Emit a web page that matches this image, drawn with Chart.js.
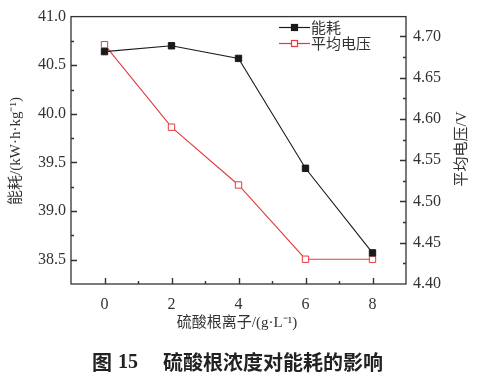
<!DOCTYPE html>
<html>
<head>
<meta charset="utf-8">
<script src="https://cdn.jsdelivr.net/npm/chart.js@4/dist/chart.umd.min.js"></script>
<style>
html,body{margin:0;padding:0;background:#fff;}
#wrap{width:480px;height:383px;}
</style>
</head>
<body>
<div id="wrap"><canvas id="c" width="480" height="383"></canvas></div>
<script>
const concentrations = [0, 2, 4, 6, 8];
const energy = [40.64, 40.70, 40.57, 39.44, 38.57];
const voltage = [4.69, 4.59, 4.52, 4.43, 4.43];
const xTicks = [0, 2, 4, 6, 8];
const leftTicks = [38.5, 39.0, 39.5, 40.0, 40.5, 41.0];
const rightTicks = [4.40, 4.45, 4.50, 4.55, 4.60, 4.65, 4.70];
const seriesNames = ['能耗', '平均电压'];
const xTitle = '硫酸根离子/(g·L⁻¹)';
const yTitle = '能耗/(kW·h·kg⁻¹)';
const y1Title = '平均电压/V';
const captionNum = '15';
const captionText = '硫酸根浓度对能耗的影响';

const SERIF = '"Liberation Serif", "Noto Sans CJK SC", serif';
const BLACK = '#1a1a1a';
const RED = '#e33b3f';
const AXIS = '#333333';

const decor = {
  id: 'decor',
  afterDraw(chart) {
    const ctx = chart.ctx, a = chart.chartArea;
    const sx = chart.scales.x, sy = chart.scales.y, sy1 = chart.scales.y1;
    ctx.save();
    ctx.strokeStyle = AXIS;
    ctx.lineWidth = 1.3;
    ctx.strokeRect(a.left, a.top, a.right - a.left, a.bottom - a.top);
    ctx.lineWidth = 1.4;
    ctx.beginPath();
    for (let v = -1; v <= 9; v++) {
      const px = Math.round(sx.getPixelForValue(v)) + 0.5;
      if (px <= a.left + 1 || px >= a.right - 1) continue;
      const len = (Math.abs(v) % 2 === 0) ? 6 : 3;
      ctx.moveTo(px, a.bottom); ctx.lineTo(px, a.bottom - len);
    }
    for (let i = 0; i <= 11; i++) {
      const v = 38.25 + i * 0.25;
      const py = Math.round(sy.getPixelForValue(v)) + 0.5;
      if (py <= a.top + 1 || py >= a.bottom - 1) continue;
      const len = (i % 2 === 1) ? 6 : 3;
      ctx.moveTo(a.left, py); ctx.lineTo(a.left + len, py);
    }
    for (let i = 0; i <= 13; i++) {
      const v = 4.40 + i * 0.025;
      const py = Math.round(sy1.getPixelForValue(v)) + 0.5;
      if (py <= a.top + 1 || py >= a.bottom - 1) continue;
      const len = (i % 2 === 0) ? 6 : 3;
      ctx.moveTo(a.right, py); ctx.lineTo(a.right - len, py);
    }
    ctx.stroke();

    ctx.fillStyle = '#333';
    ctx.textBaseline = 'middle';
    ctx.font = '15px ' + SERIF;
    ctx.textAlign = 'center';
    ctx.fillText(xTitle, 237, 323);
    ctx.save();
    ctx.translate(16, 151);
    ctx.rotate(-Math.PI / 2);
    ctx.fillText(yTitle, 0, 0);
    ctx.restore();
    ctx.save();
    ctx.translate(462, 149);
    ctx.rotate(-Math.PI / 2);
    ctx.fillText(y1Title, 0, 0);
    ctx.restore();

    const items = [
      {name: seriesNames[0], color: BLACK, fill: BLACK, y: 27},
      {name: seriesNames[1], color: RED, fill: '#fff', y: 43}
    ];
    items.forEach(it => {
      ctx.strokeStyle = it.color;
      ctx.lineWidth = 1.2;
      ctx.beginPath();
      ctx.moveTo(279, it.y + 0.5); ctx.lineTo(310, it.y + 0.5);
      ctx.stroke();
      ctx.fillStyle = it.fill;
      ctx.fillRect(291.5, it.y - 2.5, 6, 6);
      ctx.strokeRect(291.5, it.y - 2.5, 6, 6);
      ctx.fillStyle = '#333';
      ctx.textAlign = 'left';
      ctx.font = '15px "Noto Sans CJK SC", sans-serif';
      ctx.fillText(it.name, 311, it.y);
    });

    ctx.fillStyle = '#222';
    ctx.textAlign = 'left';
    ctx.font = 'bold 20px "Noto Sans CJK SC", sans-serif';
    ctx.fillText('图', 92, 362);
    ctx.font = 'bold 20px "Liberation Serif", serif';
    ctx.fillText(captionNum, 118, 363);
    ctx.font = 'bold 20px "Noto Sans CJK SC", sans-serif';
    ctx.fillText(captionText, 163, 362);
    ctx.restore();
  }
};

new Chart(document.getElementById('c'), {
  type: 'line',
  data: {
    datasets: [
      {
        label: seriesNames[0],
        data: concentrations.map((x, i) => ({x, y: energy[i]})),
        yAxisID: 'y',
        borderColor: BLACK,
        backgroundColor: BLACK,
        borderWidth: 1.1,
        pointStyle: 'rect',
        pointRadius: 4.5,
        pointBorderWidth: 1,
        pointBackgroundColor: BLACK,
        pointBorderColor: BLACK,
        tension: 0
      },
      {
        label: seriesNames[1],
        data: concentrations.map((x, i) => ({x, y: voltage[i]})),
        yAxisID: 'y1',
        borderColor: RED,
        backgroundColor: '#fff',
        borderWidth: 1.1,
        pointStyle: 'rect',
        pointRadius: 4.5,
        pointBorderWidth: 1,
        pointBackgroundColor: '#fff',
        pointBorderColor: RED,
        tension: 0
      }
    ]
  },
  options: {
    responsive: false,
    animation: false,
    devicePixelRatio: 1,
    layout: {padding: {top: 14, left: 0, right: 0, bottom: 0}},
    plugins: {legend: {display: false}, tooltip: {enabled: false}, title: {display: false}},
    scales: {
      x: {
        type: 'linear', min: -1, max: 9,
        grid: {display: false, drawTicks: false},
        border: {display: false},
        afterBuildTicks: s => { s.ticks = xTicks.map(v => ({value: v})); },
        afterFit: s => { s.height = 99; },
        ticks: {padding: 11, color: '#333', font: {family: SERIF, size: 16}, maxRotation: 0,
          callback: v => String(v)}
      },
      y: {
        type: 'linear', position: 'left', min: 38.25, max: 41.0,
        grid: {display: false, drawTicks: false},
        border: {display: false},
        afterBuildTicks: s => { s.ticks = leftTicks.map(v => ({value: v})); },
        afterFit: s => { s.width = 71; },
        ticks: {padding: 5, color: '#333', font: {family: SERIF, size: 16},
          callback: v => Number(v).toFixed(1)}
      },
      y1: {
        type: 'linear', position: 'right', min: 4.40, max: 4.724,
        grid: {display: false, drawTicks: false},
        border: {display: false},
        afterBuildTicks: s => { s.ticks = rightTicks.map(v => ({value: v})); },
        afterFit: s => { s.width = 74; },
        ticks: {padding: 7, color: '#333', font: {family: SERIF, size: 16},
          callback: v => Number(v).toFixed(2)}
      }
    }
  },
  plugins: [decor]
});
</script>
</body>
</html>
